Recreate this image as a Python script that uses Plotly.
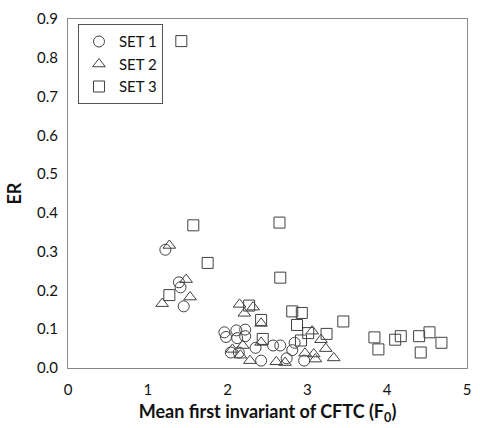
import plotly.graph_objects as go

set1_x = [1.22, 1.39, 1.41, 1.45, 1.96, 2.11, 2.22, 1.98, 2.12, 2.22, 2.04, 2.14, 2.35, 2.42, 2.57, 2.66, 2.74, 2.81, 2.84, 2.96]
set1_y = [0.305, 0.221, 0.208, 0.159, 0.092, 0.097, 0.099, 0.080, 0.077, 0.082, 0.040, 0.040, 0.052, 0.019, 0.058, 0.058, 0.025, 0.046, 0.065, 0.019]

set2_x = [1.27, 1.48, 1.18, 1.53, 2.15, 2.32, 2.21, 2.42, 2.42, 2.19, 2.06, 2.16, 2.28, 2.61, 2.72, 2.97, 3.08, 3.06, 3.17, 3.23, 3.33, 3.10]
set2_y = [0.316, 0.228, 0.166, 0.183, 0.164, 0.157, 0.141, 0.115, 0.066, 0.058, 0.048, 0.033, 0.019, 0.016, 0.014, 0.038, 0.036, 0.095, 0.073, 0.050, 0.026, 0.023]

set3_x = [1.42, 1.57, 2.65, 1.75, 2.66, 1.27, 2.27, 2.81, 2.93, 2.42, 2.87, 2.44, 2.92, 3.01, 3.24, 3.45, 3.84, 3.89, 4.10, 4.17, 4.40, 4.42, 4.53, 4.68]
set3_y = [0.843, 0.368, 0.375, 0.271, 0.233, 0.188, 0.161, 0.146, 0.142, 0.124, 0.111, 0.075, 0.071, 0.090, 0.088, 0.120, 0.079, 0.048, 0.073, 0.082, 0.082, 0.040, 0.092, 0.065]

x_ticks = [0, 1, 2, 3, 4, 5]
y_ticks = [0.0, 0.1, 0.2, 0.3, 0.4, 0.5, 0.6, 0.7, 0.8, 0.9]

mc = "#404040"
font = "Lato, 'Open Sans', sans-serif"

fig = go.Figure()
for name, xs, ys, sym in [("SET 1", set1_x, set1_y, "circle-open"),
                          ("SET 2", set2_x, set2_y, "triangle-up-open"),
                          ("SET 3", set3_x, set3_y, "square-open")]:
    fig.add_trace(go.Scatter(x=xs, y=ys, mode="markers", name=name,
                             marker=dict(symbol=sym, size=11, color=mc, line=dict(width=1, color=mc))))

fig.update_layout(
    width=480, height=428,
    margin=dict(l=68, r=9, t=13, b=59),
    paper_bgcolor="white", plot_bgcolor="white",
    font=dict(family=font, size=15, color="#111"),
    legend=dict(x=0.025, y=0.985, xanchor="left", yanchor="top",
                bordercolor="#555", borderwidth=1, bgcolor="white",
                font=dict(size=15, color="#111"), tracegroupgap=0, itemwidth=30),
    showlegend=True,
)
fig.update_xaxes(range=[0, 5], tickvals=x_ticks, showgrid=False, zeroline=False,
                 showline=True, linecolor="#888", linewidth=1, mirror=True,
                 ticks="outside", ticklen=8, tickcolor="white",
                 tickfont=dict(size=15),
                 title=dict(text="<b>Mean first invariant of CFTC (F<sub>0</sub>)</b>", font=dict(size=18), standoff=8))
fig.update_yaxes(range=[0, 0.9], tickvals=y_ticks, tickformat=".1f", showgrid=False, zeroline=False,
                 showline=True, linecolor="#888", linewidth=1, mirror=True,
                 ticks="outside", ticklen=6, tickcolor="white",
                 tickfont=dict(size=15),
                 title=dict(text="<b>ER</b>", font=dict(size=18), standoff=10))

fig.write_html("out.html")
